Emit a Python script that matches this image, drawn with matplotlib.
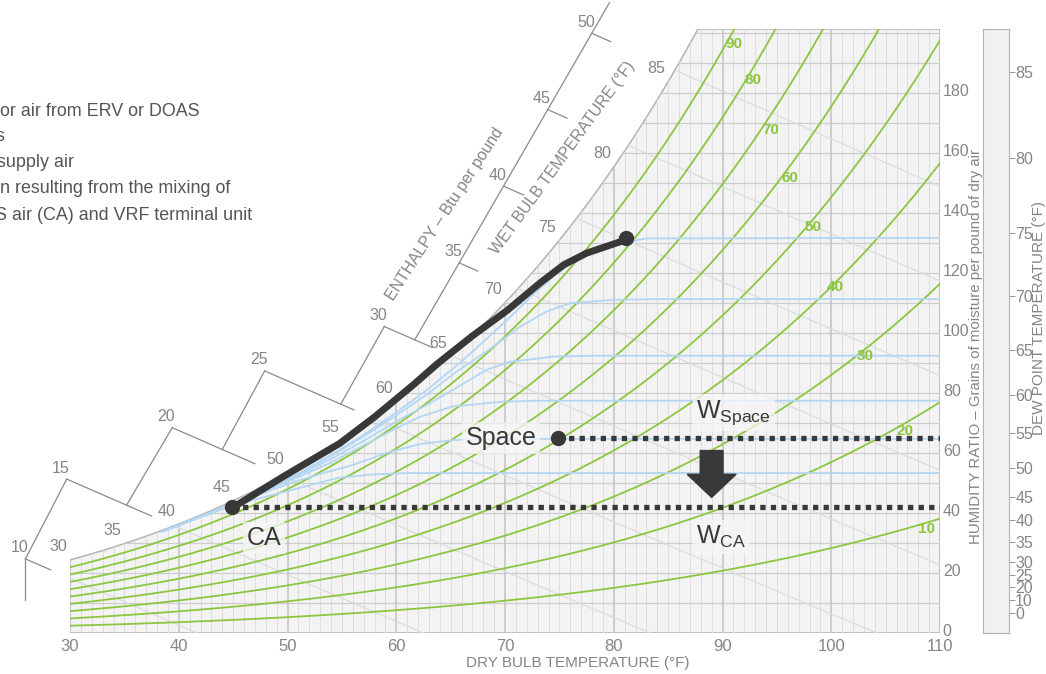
import numpy as np
import matplotlib
matplotlib.use("Agg")
import matplotlib.pyplot as plt
import matplotlib.transforms as mtransforms
from matplotlib.patches import Polygon, FancyArrow
from matplotlib.collections import LineCollection

REG = ['Liberation Sans', 'DejaVu Sans']
plt.rcParams['font.family'] = REG
plt.rcParams['mathtext.fontset'] = 'custom'
plt.rcParams['mathtext.rm'] = 'Liberation Sans'

GRAY = '#858585'
DARK = '#383838'
GREEN = '#8cc63f'
BLUE = '#b3d6f4'

# ---------------- data ----------------
P_ATM = 14.696          # psia
W_TOP = 201.3           # grains, top of chart

x_ticks = [30, 40, 50, 60, 70, 80, 90, 100, 110]
w_ticks = [0, 20, 40, 60, 80, 100, 120, 140, 160, 180]
dew_points = [0, 10, 20, 25, 30, 35, 40, 45, 50, 55, 60, 65, 70, 75, 80, 85]
# where the dew point ticks sit on the grains scale
dew_tick_W = [6.6, 11.0, 15.4, 19.3, 23.8, 30.4, 37.7, 45.4, 54.9, 66.6, 79.3, 94.3,
              112.3, 133.3, 158.3, 187.0]
wet_bulbs = [30, 35, 40, 45, 50, 55, 60, 65, 70, 75, 80, 85]

rh_levels = [10, 20, 30, 40, 50, 60, 70, 80, 90]
rh_label_T = [108.8, 106.8, 103.1, 100.4, 98.3, 96.2, 94.4, 92.8, 91.1]
rh_label_W = [34.7, 67.3, 92.3, 115.3, 135.3, 151.7, 167.7, 184.3, 196.3]

enthalpy = [10, 15, 20, 25, 30, 35, 40, 45, 50]
enth_corner_T = [25.9, 29.7, 39.4, 47.9, 58.9, 65.8, 69.9, 73.9, 78.0]
enth_tick_end_T = [28.2, 37.5, 47.0, 56.1, 63.3, 67.5, 71.7, 75.7, 79.7]
# zig-zag scale segments: (h_start, T_start, h_end, T_end)
enth_segments = [(52, 79.6, 30, 61.7), (30, 58.9, 25, 54.9), (25, 47.9, 20, 44.0),
                 (20, 39.4, 15, 35.2), (15, 29.7, 10, 25.9), (10, 25.9, 7.9, 25.9)]
interior_enthalpy = [10, 15, 20, 25, 30, 35, 40, 45, 50]

# light blue process curves (dry bulb F, grains)
blue_curves = [
    ([38.5, 42, 45, 48.4, 51.8, 54.5, 57.6, 61, 110],
     [33.8, 38.6, 42.6, 45.8, 49.0, 51.6, 52.8, 53.3, 53.3]),
    ([38.5, 42, 45, 48, 51, 53.5, 56, 59.1, 62.2, 65.2, 69, 110],
     [33.8, 38.7, 42.8, 47.0, 50.8, 53.5, 56.0, 60.0, 63.0, 64.3, 64.7, 64.7]),
    ([38.5, 42, 45, 48, 51, 54, 57, 59.7, 62.2, 65.2, 69.8, 73, 110],
     [33.8, 38.8, 43.0, 47.5, 52.0, 56.8, 62.5, 67.7, 72.1, 75.5, 77.1, 77.4, 77.4]),
    ([38.5, 42, 45, 48, 51, 54, 57, 60, 62.8, 65.2, 68.3, 70.5, 74.4, 78, 110],
     [33.8, 38.8, 43.0, 47.8, 52.6, 58.0, 64.0, 70.5, 76.0, 81.0, 87.7, 90.4, 92.1, 92.4, 92.4]),
    ([38.5, 42, 45, 48, 51, 54, 57, 60, 63, 65.5, 68.3, 71.4, 73.8, 76, 79.9, 84, 110],
     [33.8, 38.8, 43.0, 47.9, 53.0, 59.0, 65.5, 72.5, 80.0, 87.0, 93.8, 102.1, 107.1, 109.9, 111.0, 111.3, 111.3]),
    ([38.5, 42, 45, 48, 51, 54, 57, 60, 63, 66, 68, 70.5, 72.5, 74.8, 77.5, 80.6, 83, 110],
     [33.8, 38.8, 43.0, 47.9, 53.1, 59.3, 66.0, 73.5, 81.5, 90.5, 97.0, 105.4, 112.5, 119.9, 126.6, 129.9, 131.5, 131.7]),
]

# thick process line from CA up to the coil point
process_T = [45, 45.6, 49.6, 54.8, 58, 61.5, 63.7, 67, 70.2, 73.2, 75.4, 77.5, 80.6, 81.1]
process_W = [42.0, 43.2, 52.1, 63.2, 72.0, 82.5, 89.5, 99.0, 107.5, 116.6, 122.7, 126.6, 130.4, 131.7]

space_pt = (74.9, 65.0)
ca_pt = (44.9, 42.0)
coil_pt = (81.1, 131.7)
w_space = 65.0
w_ca = 42.0

legend_lines = ["or air from ERV or DOAS", "s", "supply air",
                "n resulting from the mixing of", "S air (CA) and VRF terminal unit"]


# ---------------- psychrometric helpers ----------------
def p_sat(t_f):
    tc = (np.asarray(t_f, dtype=float) - 32) / 1.8
    return 0.61094 * np.exp(17.625 * tc / (tc + 243.04)) * 0.145038


def w_grains(t_f, rh=1.0):
    pw = rh * p_sat(t_f)
    return 7000 * 0.62198 * pw / (P_ATM - pw)


def w_enth(h, t_f):
    t_f = np.asarray(t_f, dtype=float)
    return 7000 * (h - 0.24 * t_f) / (1061 + 0.444 * t_f)


def fx(px):
    return px / 1046


def fy(py):
    return 1 - py / 674


# ---------------- figure ----------------
fig = plt.figure(figsize=(10.46, 6.74), dpi=100)
ax = fig.add_axes([fx(70), fy(633), fx(940) - fx(70), fy(29) - fy(633)])
ax.set_xlim(30, 110)
ax.set_ylim(0, W_TOP)
for s in ax.spines.values():
    s.set_visible(False)

t_fine = np.linspace(30, 110, 801)
w_sat = w_grains(t_fine)
t_top = np.interp(W_TOP, w_sat, t_fine)
t_sat = np.linspace(30, t_top, 300)
outline = np.vstack([[30, 0]] + list(zip(t_sat, w_grains(t_sat))) +
                    [[t_top, W_TOP], [110, W_TOP], [110, 0]])
chart = Polygon(outline, closed=True, facecolor='#f3f3f3', edgecolor='#b3b3b3', lw=1.1, zorder=1)
ax.add_patch(chart)

# grid
minor = [[(t, 0), (t, W_TOP)] for t in range(31, 110) if t % 10]
major = [[(t, 0), (t, W_TOP)] for t in range(40, 110, 10)]
horiz = [[(30, w), (110, w)] for w in range(10, 201, 10)]
for segs, col, lw in [(minor, '#dedede', 0.7), (horiz, '#cdcdcd', 0.9), (major, '#c2c2c2', 1.1)]:
    lc = LineCollection(segs, colors=col, linewidths=lw, zorder=2)
    ax.add_collection(lc)
    lc.set_clip_path(chart)

# enthalpy lines inside the chart
t_e = np.linspace(20, 112, 200)
for h in interior_enthalpy:
    ln, = ax.plot(t_e, w_enth(h, t_e), color='#dcdcdc', lw=0.9, zorder=2)
    ln.set_clip_path(chart)

# relative humidity curves
for rh, lt, lw_ in zip(rh_levels, rh_label_T, rh_label_W):
    ln, = ax.plot(t_fine, w_grains(t_fine, rh / 100), color=GREEN, lw=1.3, zorder=3)
    ln.set_clip_path(chart)
    ax.text(lt, lw_, str(rh), color=GREEN, fontsize=11, fontweight='bold',
            ha='center', va='center', zorder=6)

# blue curves
for bt, bw in blue_curves:
    ln, = ax.plot(bt, bw, color=BLUE, lw=1.3, zorder=3)
    ln.set_clip_path(chart)

# enthalpy scale outside the chart
for h, tc, te in zip(enthalpy, enth_corner_T, enth_tick_end_T):
    ax.plot([tc, te], [w_enth(h, tc), w_enth(h, te)], color='#8a8a8a', lw=0.9, clip_on=False, zorder=2)
    ax.annotate(str(h), (tc, w_enth(h, tc)), xytext=(-6, 11), textcoords='offset pixels',
                ha='center', va='center', fontsize=11.5, color=GRAY, annotation_clip=False)
for h1, t1, h2, t2 in enth_segments:
    ax.plot([t1, t2], [w_enth(h1, t1), w_enth(h2, t2)], color='#8a8a8a', lw=0.9, clip_on=False, zorder=2)

# wet bulb labels on the saturation curve
for wb in wet_bulbs:
    ax.annotate(str(wb), (wb, w_grains(wb)), xytext=(-12, 13), textcoords='offset pixels',
                ha='center', va='center', fontsize=11.5, color=GRAY, annotation_clip=False)

# process
ax.plot(process_T, process_W, color=DARK, lw=5, solid_capstyle='round', solid_joinstyle='round', zorder=7)
ax.plot([space_pt[0], 110], [w_space, w_space], color=DARK, lw=3.8,
        ls=(0, (1, 1)), dash_capstyle='butt', zorder=7)
ax.plot([ca_pt[0], 110], [w_ca, w_ca], color=DARK, lw=3.8,
        ls=(0, (1, 1)), dash_capstyle='butt', zorder=7)
for p in (space_pt, ca_pt, coil_pt):
    ax.plot(*p, 'o', ms=10, color=DARK, zorder=8, clip_on=False)
ax.add_patch(FancyArrow(89.0, 60.8, 0, -15.6, width=2.1, head_width=4.5, head_length=7.7,
                        length_includes_head=True, color=DARK, zorder=8))

box = dict(boxstyle='square,pad=0.15', fc='#f7f7f7', ec='none', alpha=0.75)
ax.text(72.9, 65.0, 'Space', ha='right', va='center', fontsize=18, color=DARK, zorder=8, bbox=box)
ax.text(47.8, 31.7, 'CA', ha='center', va='center', fontsize=18, color=DARK, zorder=8, bbox=box)
ax.text(87.6, 73.5, r'W$_{\mathrm{Space}}$', ha='left', va='center', fontsize=18, color=DARK,
        zorder=8, bbox=box)
ax.text(87.6, 32.0, r'W$_{\mathrm{CA}}$', ha='left', va='center', fontsize=18, color=DARK,
        zorder=8, bbox=box)

# axes ticks (labels sit a few pixels above their gridline, as in the source)
lift = mtransforms.ScaledTranslation(0, 3 / 100, fig.dpi_scale_trans)
ax.set_xticks(x_ticks)
ax.set_xticklabels([str(t) for t in x_ticks])
ax.yaxis.tick_right()
ax.set_yticks(w_ticks)
ax.set_yticklabels([str(w) for w in w_ticks])
ax.tick_params(axis='x', length=0, pad=4, labelsize=12, labelcolor=GRAY)
ax.tick_params(axis='y', length=0, pad=2, labelsize=11.5, labelcolor=GRAY)
for lbl in ax.get_yticklabels():
    lbl.set_transform(lbl.get_transform() + lift)

# dew point bar
axd = fig.add_axes([fx(983), fy(633), fx(1009) - fx(983), fy(29) - fy(633)])
axd.set_facecolor('#f1f1f1')
axd.set_ylim(0, W_TOP)
axd.set_xticks([])
axd.yaxis.tick_right()
axd.set_yticks(dew_tick_W)
axd.set_yticklabels([str(d) for d in dew_points])
axd.tick_params(axis='y', length=4, width=0.8, color='#9a9a9a', pad=0.5, labelsize=11.5, labelcolor=GRAY)
for s in axd.spines.values():
    s.set_color('#b3b3b3')

# titles
fig.text(fx(578), fy(663), 'DRY BULB TEMPERATURE (°F)', ha='center', va='center', fontsize=11, color=GRAY)
fig.text(fx(976), fy(346), 'HUMIDITY RATIO – Grains of moisture per pound of dry air',
         ha='center', va='center', rotation=90, fontsize=10.8, color=GRAY)
fig.text(fx(1039), fy(318), 'DEW POINT TEMPERATURE (°F)', ha='center', va='center',
         rotation=90, fontsize=11, color=GRAY)
fig.text(fx(445), fy(214), 'ENTHALPY – Btu per pound', ha='center', va='center',
         rotation=57, fontsize=11.5, color=GRAY)
fig.text(fx(563), fy(158), 'WET BULB TEMPERATURE (°F)', ha='center', va='center',
         rotation=54, fontsize=11.4, color=GRAY)

# cropped legend text at top left (cut by the left edge as in the source)
for line, left, base in zip(legend_lines, [0, -4, -3, 0, -5], [116, 141, 167, 193, 220]):
    fig.text(fx(left), fy(base), line, ha='left', va='baseline', fontsize=12.9, color='#555555')

fig.savefig('out.png', dpi=100)
